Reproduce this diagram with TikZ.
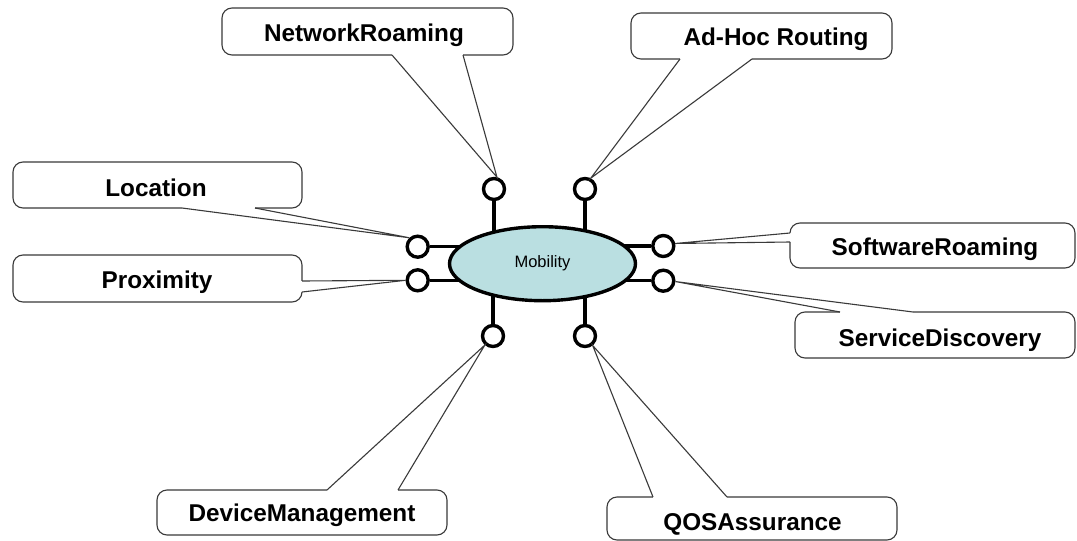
\documentclass[tikz,border=0pt]{standalone}
\usepackage{fontspec}
\setmainfont{Liberation Sans}
\usetikzlibrary{shapes.geometric,backgrounds}
\definecolor{hubblue}{RGB}{186,223,225}
\definecolor{calloutgray}{RGB}{58,58,58}
\begin{document}
\begin{tikzpicture}[x=1pt,y=-1pt,
  port/.style={circle,draw=black,line width=3.4pt,fill=white,minimum size=21pt,inner sep=0pt},
  stem/.style={draw=black,line width=3.4pt},
  hub/.style={ellipse,draw=black,line width=3.4pt,fill=hubblue,minimum width=186pt,
    minimum height=74pt,inner sep=0pt,font=\fontsize{16.5}{18}\selectfont},
  callbox/.style={draw=calloutgray,line width=1.1pt,rounded corners=10pt},
  callline/.style={draw=calloutgray,line width=1.1pt,line join=miter},
  gap/.style={draw=white,line width=2.6pt},
  calltext/.style={font=\bfseries\fontsize{24.3}{28}\selectfont,inner sep=0pt,anchor=base}]

\useasboundingbox (0,0) rectangle (1077,541);

% central hub and its eight ports
\node[hub] (mob) at (542.5,263.7) {Mobility};
\node[port] (pNR) at (494,189) {};
\node[port] (pAH) at (585,189) {};
\node[port] (pLU) at (417.7,246.7) {};
\node[port] (pLL) at (417.7,280.3) {};
\node[port] (pRU) at (663.3,246) {};
\node[port] (pRL) at (663.3,280.7) {};
\node[port] (pBL) at (493,336) {};
\node[port] (pBR) at (585,336) {};

% white page, then stems running to the hub centre, hidden under its fill
\begin{pgfonlayer}{background}
  \fill[white] (0,0) rectangle (1077,541);
  \draw[stem] (pNR) -- (pNR |- mob.center);
  \draw[stem] (pAH) -- (pAH |- mob.center);
  \draw[stem] (pBL) -- (pBL |- mob.center);
  \draw[stem] (pBR) -- (pBR |- mob.center);
  \draw[stem] (pLU) -- (pLU -| mob.center);
  \draw[stem] (pLL) -- (pLL -| mob.center);
  \draw[stem] (pRU) -- (pRU -| mob.center);
  \draw[stem] (pRL) -- (pRL -| mob.center);
\end{pgfonlayer}

% NetworkRoaming
\draw[callbox] (222,8) rectangle (513,55);
\draw[gap] (392,55) -- (463,55);
\draw[callline] (392,55) -- (pNR.76) -- (463,55);
\node[calltext] (tNR) at (364,41) {NetworkRoaming};

% Ad-Hoc Routing
\draw[callbox] (631,13) rectangle (892,59);
\draw[gap] (680,59) -- (752,59);
\draw[callline] (680,59) -- (pAH.62) -- (752,59);
\node[calltext] (tAH) at (776,45) {Ad-Hoc Routing};

% Location
\draw[callbox] (13,162) rectangle (302,208);
\draw[gap] (182,208) -- (255,208);
\draw[callline] (182,208) -- (pLU.133) -- (255,208);
\node[calltext] (tLO) at (156,196) {Location};

% Proximity
\draw[callbox] (13,255) rectangle (302,302);
\draw[gap] (302,281) -- (302,292);
\draw[callline] (302,281) -- (pLL.180) -- (302,292);
\node[calltext] (tPX) at (157,288) {Proximity};

% SoftwareRoaming
\draw[callbox] (790,223) rectangle (1075,268);
\draw[gap] (790,233) -- (790,242);
\draw[callline] (790,233) -- (pRU.12) -- (790,242);
\node[calltext] (tSR) at (935,255) {SoftwareRoaming};

% ServiceDiscovery
\draw[callbox] (795,312) rectangle (1075,358);
\draw[gap] (840,312) -- (913,312);
\draw[callline] (840,312) -- (pRL.356) -- (913,312);
\node[calltext] (tSD) at (940,346) {ServiceDiscovery};

% DeviceManagement
\draw[callbox] (157,490) rectangle (447,535);
\draw[gap] (327,490) -- (398,490);
\draw[callline] (327,490) -- (pBL.228) -- (398,490);
\node[calltext] (tDM) at (302,521.5) {DeviceManagement};

% QOSAssurance
\draw[callbox] (607,497) rectangle (897,540);
\draw[gap] (653,497) -- (727,497);
\draw[callline] (653,497) -- (pBR.309) -- (727,497);
\node[calltext] (tQA) at (752.5,530) {QOSAssurance};
\end{tikzpicture}
\end{document}
